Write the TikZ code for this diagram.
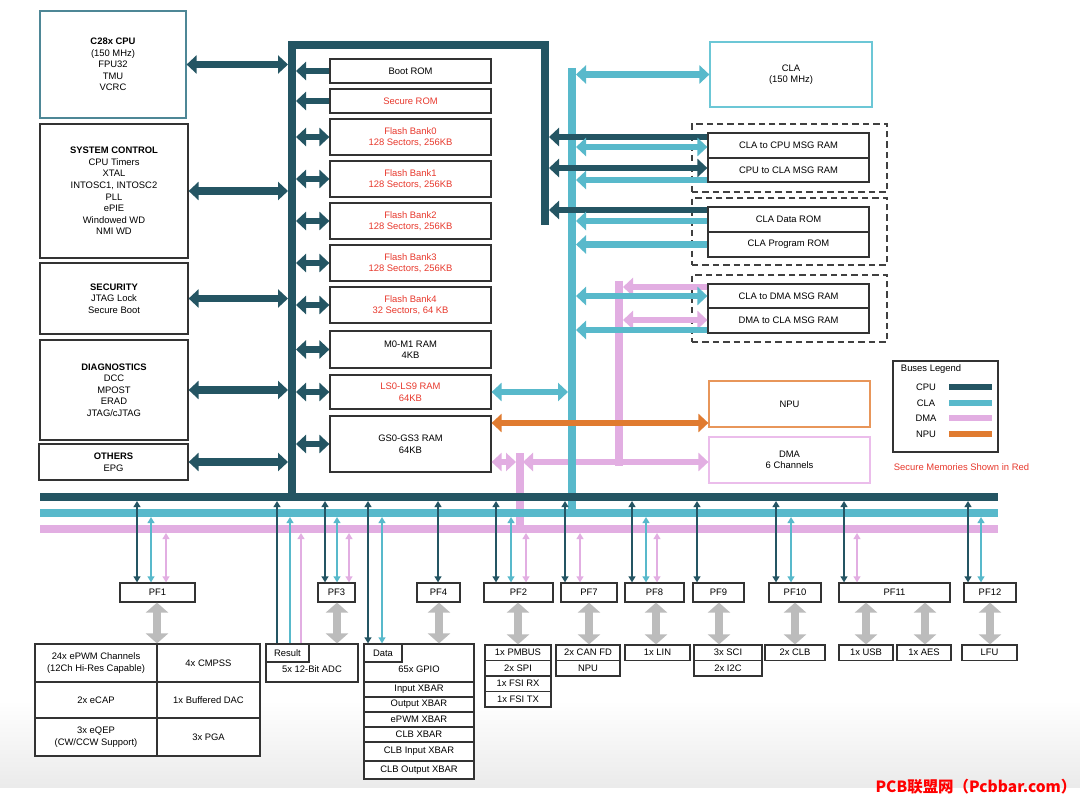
\documentclass[tikz,border=0pt]{standalone}
\usepackage{fontspec}
\setmainfont{Liberation Sans}
\newfontfamily\cjkfont{Noto Sans CJK SC}
\usetikzlibrary{arrows.meta, calc}
\definecolor{cpubus}{HTML}{245563}
\definecolor{clabus}{HTML}{58B9CB}
\definecolor{dmabus}{HTML}{E2AEE2}
\definecolor{npubus}{HTML}{E07B30}
\definecolor{graybus}{HTML}{BCBCBC}
\definecolor{secred}{HTML}{E8392D}
\definecolor{cpuframe}{HTML}{4E8796}
\definecolor{claframe}{HTML}{6CC7D6}
\definecolor{npuframe}{HTML}{E8965A}
\definecolor{dmaframe}{HTML}{EBBDEB}
\tikzset{
  blk/.style={rectangle, draw=black!80, line width=0.03cm, fill=white, align=center, inner sep=0pt},
  sz/.style 2 args={minimum width=#1*0.025cm, minimum height=#2*0.025cm},
  secure/.style={blk, text=secred},
  grp/.style={rectangle, draw=black!75, line width=0.03cm, dash pattern=on 0.16cm off 0.1cm},
  bus/.style={line width=0.2cm},
  fat/.style={line width=0.16cm, >={Triangle[length=0.25cm,width=0.45cm]}},
  slim/.style={line width=0.05cm, >={Triangle[length=0.15cm,width=0.17cm]}},
  periph/.style={draw=graybus, line width=0.2cm, <->, >={Triangle[length=0.25cm,width=0.55cm]}},
  lowtext/.style={label={[yshift=-0.15cm]center:#1}}
}
\begin{document}
\begin{tikzpicture}[x=0.025cm, y=-0.025cm, every node/.style={font=\fontsize{6.7}{8.2}\selectfont}]
        \useasboundingbox (0,0) rectangle (1080,801);
        \fill[white] (0,0) rectangle (1080,801);
        \shade[top color=white, bottom color=black!8] (0,700) rectangle (1080,787);

        % left column
        \node (c28) [blk, draw=cpuframe, sz={146}{107}] at (113,64.5) {\textbf{C28x CPU}\\(150 MHz)\\FPU32\\TMU\\VCRC};
        \node (sysctl) [blk, sz={148}{134}] at (114,191) {\textbf{SYSTEM CONTROL}\\CPU Timers\\XTAL\\INTOSC1, INTOSC2\\PLL\\ePIE\\Windowed WD\\NMI WD};
        \node (security) [blk, sz={148}{71}] at (114,298.5) {\textbf{SECURITY}\\JTAG Lock\\Secure Boot};
        \node (diag) [blk, sz={148}{100}] at (114,390) {\textbf{DIAGNOSTICS}\\DCC\\MPOST\\ERAD\\JTAG/cJTAG};
        \node (others) [blk, sz={149}{36}] at (113.5,462) {\textbf{OTHERS}\\EPG};

        % memories
        \node (bootrom) [blk, sz={161}{24}] at (410.5,71) {Boot ROM};
        \node (secrom) [secure, sz={161}{24}] at (410.5,101) {Secure ROM};
        \node (flash0) [secure, sz={161}{36}] at (410.5,137) {Flash Bank0\\128 Sectors, 256KB};
        \node (flash1) [secure, sz={161}{36}] at (410.5,179) {Flash Bank1\\128 Sectors, 256KB};
        \node (flash2) [secure, sz={161}{36}] at (410.5,221) {Flash Bank2\\128 Sectors, 256KB};
        \node (flash3) [secure, sz={161}{36}] at (410.5,263) {Flash Bank3\\128 Sectors, 256KB};
        \node (flash4) [secure, sz={161}{36}] at (410.5,305) {Flash Bank4\\32 Sectors, 64 KB};
        \node (m0m1) [blk, sz={161}{37}] at (410.5,349.5) {M0-M1 RAM\\4KB};
        \node (lsram) [secure, sz={161}{34}] at (410.5,392) {LS0-LS9 RAM\\64KB};
        \node (gsram) [blk, sz={161}{56}] at (410.5,444) {GS0-GS3 RAM\\64KB};

        % CLA side
        \node (cla) [blk, draw=claframe, sz={162}{65}] at (791,74.5) {CLA\\(150 MHz)};
        \node (msggrp) [grp, sz={195}{68}] at (789.5,158) {};
        \node (romgrp) [grp, sz={195}{67}] at (789.5,231.5) {};
        \node (dmagrp) [grp, sz={195}{67}] at (789.5,308.5) {};
        \node (c2cmsg) [blk, sz={161}{25}] at (788.5,145.5) {CLA to CPU MSG RAM};
        \node (cpu2cla) [blk, sz={161}{24}] at (788.5,170) {CPU to CLA MSG RAM};
        \node (cladrom) [blk, sz={161}{25}] at (788.5,219.5) {CLA Data ROM};
        \node (claprom) [blk, sz={161}{25}] at (788.5,244.5) {CLA Program ROM};
        \node (cla2dma) [blk, sz={161}{24}] at (788.5,296) {CLA to DMA MSG RAM};
        \node (dma2cla) [blk, sz={161}{25}] at (788.5,320.5) {DMA to CLA MSG RAM};
        \node (npu) [blk, draw=npuframe, sz={161}{46}] at (789.5,404) {NPU};
        \node (dma) [blk, draw=dmaframe, sz={161}{46}] at (789.5,460) {DMA\\6 Channels};

        % legend
        \node (legend) [blk, sz={105}{91}] at (945.5,406.5) {};
        \node (lgtitle) [anchor=west] at (896,369) {Buses Legend};
        \node (lgcpu) at (926,387) {CPU};
        \node (lgcla) at (926,403) {CLA};
        \node (lgdma) at (926,418) {DMA};
        \node (lgnpu) at (926,434) {NPU};
        \draw[cpubus, line width=0.15cm] (949,387) -- (992,387);
        \draw[clabus, line width=0.15cm] (949,403) -- (992,403);
        \draw[dmabus, line width=0.15cm] (949,418) -- (992,418);
        \draw[npubus, line width=0.15cm] (949,434) -- (992,434);
        \node (securenote) [text=secred] at (961.5,467) {Secure Memories Shown in Red};

        % peripheral frames
        \node (pf1) [blk, sz={75}{19}] at (157.5,592.5) {PF1};
        \node (pf3) [blk, sz={37}{19}] at (336.5,592.5) {PF3};
        \node (pf4) [blk, sz={43}{19}] at (438.5,592.5) {PF4};
        \node (pf2) [blk, sz={69}{19}] at (518.5,592.5) {PF2};
        \node (pf7) [blk, sz={56}{19}] at (589,592.5) {PF7};
        \node (pf8) [blk, sz={59}{19}] at (654.5,592.5) {PF8};
        \node (pf9) [blk, sz={51}{19}] at (718.5,592.5) {PF9};
        \node (pf10) [blk, sz={52}{19}] at (795,592.5) {PF10};
        \node (pf11) [blk, sz={111}{19}] at (894.5,592.5) {PF11};
        \node (pf12) [blk, sz={52}{19}] at (990,592.5) {PF12};

        % peripherals
        \node (pwm) [blk, sz={122}{38}] at (96,663) {24x ePWM Channels\\(12Ch Hi-Res Capable)};
        \node (cmpss) [blk, sz={103}{38}] at (208.5,663) {4x CMPSS};
        \node (ecap) [blk, sz={122}{36}] at (96,700) {2x eCAP};
        \node (dac) [blk, sz={103}{36}] at (208.5,700) {1x Buffered DAC};
        \node (eqep) [blk, sz={122}{38}] at (96,737) {3x eQEP\\(CW/CCW Support)};
        \node (pga) [blk, sz={103}{38}] at (208.5,737) {3x PGA};
        \node (adc) [blk, sz={92}{38}, lowtext={5x 12-Bit ADC}] at (312,663) {};
        \node (result) [blk, sz={43}{18}] at (287.5,653) {Result};
        \node (gpio) [blk, sz={110}{38}, lowtext={65x GPIO}] at (419,663) {};
        \node (data) [blk, sz={38}{18}] at (383,653) {Data};
        \node (inxbar) [blk, sz={110}{15}] at (419,689.5) {Input XBAR};
        \node (outxbar) [blk, sz={110}{15}] at (419,704.5) {Output XBAR};
        \node (pwmxbar) [blk, sz={110}{15}] at (419,719.5) {ePWM XBAR};
        \node (clbxbar) [blk, sz={110}{15}] at (419,734.5) {CLB XBAR};
        \node (clbinxbar) [blk, sz={110}{19}] at (419,751.5) {CLB Input XBAR};
        \node (clboutxbar) [blk, sz={110}{18}] at (419,770) {CLB Output XBAR};
        \node (pmbus) [blk, sz={66}{15.5}] at (518,652.75) {1x PMBUS};
        \node (spi) [blk, sz={66}{15.5}] at (518,668.25) {2x SPI};
        \node (fsirx) [blk, sz={66}{15.5}] at (518,683.75) {1x FSI RX};
        \node (fsitx) [blk, sz={66}{15.5}] at (518,699.25) {1x FSI TX};
        \node (canfd) [blk, sz={64}{15.5}] at (588,652.75) {2x CAN FD};
        \node (npuper) [blk, sz={64}{15.5}] at (588,668.25) {NPU};
        \node (lin) [blk, sz={65}{15.5}] at (657.5,652.75) {1x LIN};
        \node (sci) [blk, sz={68}{15.5}] at (728,652.75) {3x SCI};
        \node (i2c) [blk, sz={68}{15.5}] at (728,668.25) {2x I2C};
        \node (clb) [blk, sz={60}{15.5}] at (795,652.75) {2x CLB};
        \node (usb) [blk, sz={54}{15.5}] at (866,652.75) {1x USB};
        \node (aes) [blk, sz={54}{15.5}] at (924,652.75) {1x AES};
        \node (lfu) [blk, sz={55}{15.5}] at (989.5,652.75) {LFU};

        % bus edges
        \coordinate (cpuL) at (288,0);
        \coordinate (cpuR) at (296,0);
        \coordinate (cpuE) at (549,0);
        \coordinate (claL) at (568,0);
        \coordinate (claR) at (576,0);
        \coordinate (dmaR) at (623,0);
        \coordinate (dmajl) at (516,462);
        \coordinate (dmaj) at (523,462);
        \coordinate (cpuB) at (0,501);
        \coordinate (claB) at (0,517);
        \coordinate (dmaB) at (0,533);

        % buses
        \draw[bus, dmabus] (619,281) -- (619,466);
        \draw[bus, dmabus] (519.5,453) -- (519.5,529);
        \draw[fat, dmabus, <->] (dmaj) -- (dma.west |- dmaj);
        \draw[bus, clabus] (572,68) -- (572,513);
        \draw[bus, dmabus] (40,529) -- (998,529);
        \draw[bus, clabus] (40,513) -- (998,513);
        \draw[bus, cpubus] (40,497) -- (998,497);
        \draw[bus, cpubus, line join=miter] (292,497) -- (292,45.5) -- (545,45.5) -- (545,225);

        % left blocks to CPU bus
        \draw[fat, cpubus, line width=0.19cm, <->] (c28.east) -- (c28.east -| cpuL);
        \draw[fat, cpubus, line width=0.19cm, <->] (sysctl.east) -- (sysctl.east -| cpuL);
        \draw[fat, cpubus, line width=0.19cm, <->] (security.east) -- (security.east -| cpuL);
        \draw[fat, cpubus, line width=0.19cm, <->] (diag.east) -- (diag.east -| cpuL);
        \draw[fat, cpubus, line width=0.19cm, <->] (others.east) -- (others.east -| cpuL);

        % memories to CPU bus
        \draw[fat, cpubus, ->] (bootrom.west) -- (bootrom.west -| cpuR);
        \draw[fat, cpubus, ->] (secrom.west) -- (secrom.west -| cpuR);
        \draw[fat, cpubus, <->] (flash0.west) -- (flash0.west -| cpuR);
        \draw[fat, cpubus, <->] (flash1.west) -- (flash1.west -| cpuR);
        \draw[fat, cpubus, <->] (flash2.west) -- (flash2.west -| cpuR);
        \draw[fat, cpubus, <->] (flash3.west) -- (flash3.west -| cpuR);
        \draw[fat, cpubus, <->] (flash4.west) -- (flash4.west -| cpuR);
        \draw[fat, cpubus, <->] (m0m1.west) -- (m0m1.west -| cpuR);
        \draw[fat, cpubus, <->] (lsram.west) -- (lsram.west -| cpuR);
        \draw[fat, cpubus, <->] (gsram.west) -- (gsram.west -| cpuR);

        % CLA side connections
        \draw[fat, clabus, <->] (cla.west) -- (cla.west -| claR);
        \draw[fat, cpubus, ->] (c2cmsg.west |- 0,137) -- (cpuE |- 0,137);
        \draw[fat, clabus, <->] (c2cmsg.west |- 0,147) -- (claR |- 0,147);
        \draw[fat, cpubus, <->] (cpu2cla.west |- 0,168) -- (cpuE |- 0,168);
        \draw[fat, clabus, ->] (cpu2cla.west |- 0,180) -- (claR |- 0,180);
        \draw[fat, cpubus, ->] (cladrom.west |- 0,210) -- (cpuE |- 0,210);
        \draw[fat, clabus, ->] (cladrom.west |- 0,221) -- (claR |- 0,221);
        \draw[fat, clabus, ->] (claprom.west) -- (claprom.west -| claR);
        \draw[fat, dmabus, ->] (cla2dma.west |- 0,287) -- (dmaR |- 0,287);
        \draw[fat, clabus, <->] (cla2dma.west |- 0,296) -- (claR |- 0,296);
        \draw[fat, dmabus, <->] (dma2cla.west |- 0,320) -- (dmaR |- 0,320);
        \draw[fat, clabus, ->] (dma2cla.west |- 0,330) -- (claR |- 0,330);
        \draw[fat, clabus, <->] (lsram.east) -- (lsram.east -| claL);
        \draw[fat, npubus, <->] (gsram.east |- 0,423) -- (npu.west |- 0,423);
        \draw[fat, dmabus, <->] (gsram.east |- dmajl) -- (dmajl);

        % buses to peripheral frames
        \draw[slim, cpubus, <->] (137,0 |- pf1.north) -- (137,0 |- cpuB);
        \draw[slim, clabus, <->] (151,0 |- pf1.north) -- (151,0 |- claB);
        \draw[slim, dmabus, <->] (166,0 |- pf1.north) -- (166,0 |- dmaB);
        \draw[slim, cpubus, ->] (277,0 |- result.north) -- (277,0 |- cpuB);
        \draw[slim, clabus, ->] (290,0 |- result.north) -- (290,0 |- claB);
        \draw[slim, dmabus, ->] (301,0 |- result.north) -- (301,0 |- dmaB);
        \draw[slim, cpubus, <->] (325,0 |- pf3.north) -- (325,0 |- cpuB);
        \draw[slim, clabus, <->] (337,0 |- pf3.north) -- (337,0 |- claB);
        \draw[slim, dmabus, <->] (349,0 |- pf3.north) -- (349,0 |- dmaB);
        \draw[slim, cpubus, <->] (368,0 |- data.north) -- (368,0 |- cpuB);
        \draw[slim, clabus, <->] (382,0 |- data.north) -- (382,0 |- claB);
        \draw[slim, cpubus, <->] (438,0 |- pf4.north) -- (438,0 |- cpuB);
        \draw[slim, cpubus, <->] (496,0 |- pf2.north) -- (496,0 |- cpuB);
        \draw[slim, clabus, <->] (511,0 |- pf2.north) -- (511,0 |- claB);
        \draw[slim, dmabus, <->] (526,0 |- pf2.north) -- (526,0 |- dmaB);
        \draw[slim, cpubus, <->] (565,0 |- pf7.north) -- (565,0 |- cpuB);
        \draw[slim, dmabus, <->] (580,0 |- pf7.north) -- (580,0 |- dmaB);
        \draw[slim, cpubus, <->] (632,0 |- pf8.north) -- (632,0 |- cpuB);
        \draw[slim, clabus, <->] (646,0 |- pf8.north) -- (646,0 |- claB);
        \draw[slim, dmabus, <->] (657,0 |- pf8.north) -- (657,0 |- dmaB);
        \draw[slim, cpubus, <->] (697,0 |- pf9.north) -- (697,0 |- cpuB);
        \draw[slim, cpubus, <->] (776,0 |- pf10.north) -- (776,0 |- cpuB);
        \draw[slim, clabus, <->] (791,0 |- pf10.north) -- (791,0 |- claB);
        \draw[slim, cpubus, <->] (844,0 |- pf11.north) -- (844,0 |- cpuB);
        \draw[slim, dmabus, <->] (857,0 |- pf11.north) -- (857,0 |- dmaB);
        \draw[slim, cpubus, <->] (968,0 |- pf12.north) -- (968,0 |- cpuB);
        \draw[slim, clabus, <->] (981,0 |- pf12.north) -- (981,0 |- claB);

        % frames to peripherals
        \draw[periph] (157,0 |- pf1.south) -- (157,0 |- pwm.north);
        \draw[periph] (337,0 |- pf3.south) -- (337,0 |- adc.north);
        \draw[periph] (439,0 |- pf4.south) -- (439,0 |- gpio.north);
        \draw[periph] (518,0 |- pf2.south) -- (518,0 |- pmbus.north);
        \draw[periph] (589,0 |- pf7.south) -- (589,0 |- canfd.north);
        \draw[periph] (656,0 |- pf8.south) -- (656,0 |- lin.north);
        \draw[periph] (719,0 |- pf9.south) -- (719,0 |- sci.north);
        \draw[periph] (795,0 |- pf10.south) -- (795,0 |- clb.north);
        \draw[periph] (866,0 |- pf11.south) -- (866,0 |- usb.north);
        \draw[periph] (925,0 |- pf11.south) -- (925,0 |- aes.north);
        \draw[periph] (990,0 |- pf12.south) -- (990,0 |- lfu.north);

        \node (mark) [text=red, font=\cjkfont\bfseries\fontsize{11}{13}\selectfont] at (976,787) {PCB联盟网（Pcbbar.com）};
    \end{tikzpicture}
\end{document}
